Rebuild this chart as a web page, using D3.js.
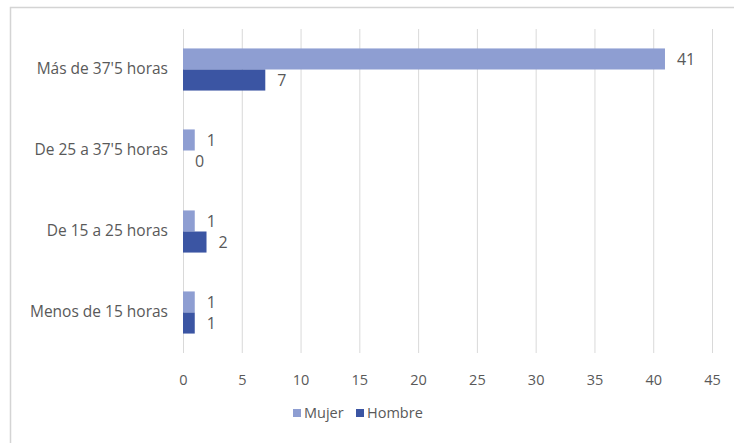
<!DOCTYPE html>
<html>
<head>
<meta charset="utf-8">
<script src="https://cdn.jsdelivr.net/npm/d3@7"></script>
<style>
  html, body { margin: 0; padding: 0; background: #fff; }
  svg { display: block; }
  text { font-family: "Open Sans", "Noto Sans", sans-serif; fill: #595959; }
</style>
</head>
<body>
<svg id="chart" width="734" height="443"></svg>
<script>
// Weekly working-hours brackets, top to bottom
const categories = ["Más de 37'5 horas", "De 25 a 37'5 horas", "De 15 a 25 horas", "Menos de 15 horas"];
const seriesNames = ["Mujer", "Hombre"];
const mujer = [41, 1, 1, 1];
const hombre = [7, 0, 2, 1];
const xTicks = [0, 5, 10, 15, 20, 25, 30, 35, 40, 45];

const colors = { Mujer: "#8e9ed2", Hombre: "#3b55a3" };

const svg = d3.select("#chart");
const W = 734, H = 443;

// outer frame (only left/top edges fall inside the view)
svg.append("rect")
  .attr("x", 10.5).attr("y", 7.5)
  .attr("width", W + 20).attr("height", H + 20)
  .attr("fill", "none").attr("stroke", "#d4d4d4").attr("stroke-width", 1.5);

const x = d3.scaleLinear().domain([0, 45]).range([183, 712]);
const y = d3.scaleBand().domain(categories).range([29, 353])
  .paddingInner(0.48).paddingOuter(0.24);
const ySub = d3.scaleBand().domain(seriesNames).range([0, y.bandwidth()]);

// vertical gridlines
svg.append("g").selectAll("line").data(xTicks).join("line")
  .attr("x1", d => x(d) + 0.5).attr("x2", d => x(d) + 0.5)
  .attr("y1", 29).attr("y2", 353)
  .attr("stroke", "#d9d9d9").attr("stroke-width", 1);

// x tick labels
const xAxis = d3.axisBottom(x).tickValues(xTicks).tickSize(0).tickPadding(0);
const gx = svg.append("g").attr("transform", "translate(0,372)").call(xAxis);
gx.select(".domain").remove();
gx.selectAll("text").attr("font-size", 14.5).attr("fill", "#595959")
  .attr("font-family", "'Open Sans', sans-serif").attr("dy", "0.35em").attr("y", 8);

// category labels
const yAxis = d3.axisLeft(y).tickSize(0).tickPadding(15);
const gy = svg.append("g").attr("transform", `translate(${x(0)},0)`).call(yAxis);
gy.select(".domain").remove();
gy.selectAll("text").attr("font-size", 15.5).attr("fill", "#595959")
  .attr("font-family", "'Open Sans', sans-serif");

// bars
const rows = categories.map((c, i) => ({ cat: c, values: [
  { key: "Mujer", value: mujer[i] },
  { key: "Hombre", value: hombre[i] }
]}));

const groups = svg.append("g").selectAll("g").data(rows).join("g")
  .attr("transform", d => `translate(0,${y(d.cat)})`);

groups.selectAll("rect").data(d => d.values).join("rect")
  .attr("x", x(0))
  .attr("y", d => ySub(d.key))
  .attr("width", d => x(d.value) - x(0))
  .attr("height", ySub.bandwidth())
  .attr("fill", d => colors[d.key]);

groups.selectAll("text.val").data(d => d.values).join("text")
  .attr("class", "val")
  .attr("x", d => x(d.value) + 12)
  .attr("y", d => ySub(d.key) + ySub.bandwidth() / 2)
  .attr("dy", "0.35em")
  .attr("font-size", 16)
  .attr("fill", "#404040")
  .text(d => d.value);

// legend
const legend = svg.append("g").attr("transform", "translate(293,413)");
const items = legend.selectAll("g").data(seriesNames).join("g")
  .attr("transform", (d, i) => `translate(${i * 63},0)`);
items.append("rect").attr("x", 0).attr("y", -4).attr("width", 8).attr("height", 8)
  .attr("fill", d => colors[d]);
items.append("text").attr("x", 11).attr("y", 0).attr("dy", "0.35em")
  .attr("font-size", 14.5).text(d => d);
</script>
</body>
</html>
